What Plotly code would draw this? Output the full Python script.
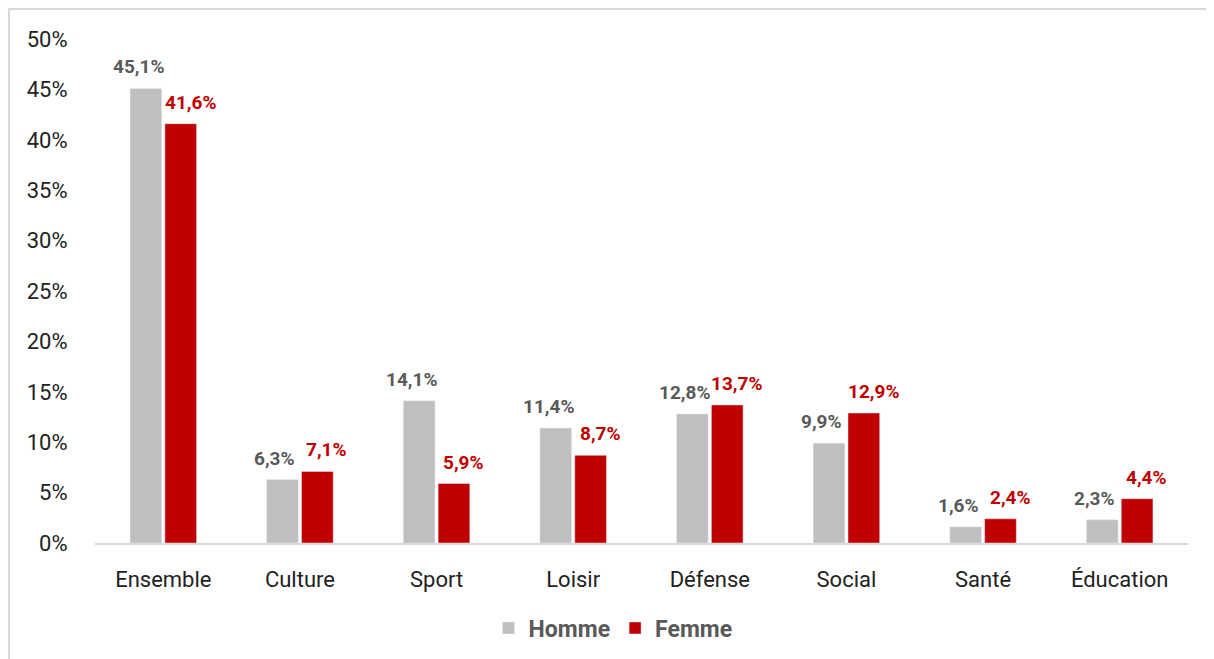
import plotly.graph_objects as go

categories = ["Ensemble", "Culture", "Sport", "Loisir", "Défense", "Social", "Santé", "Éducation"]
homme = [45.1, 6.3, 14.1, 11.4, 12.8, 9.9, 1.6, 2.3]
femme = [41.6, 7.1, 5.9, 8.7, 13.7, 12.9, 2.4, 4.4]
ytick_vals = [0, 5, 10, 15, 20, 25, 30, 35, 40, 45, 50]
ytick_text = [f"{v}%" for v in ytick_vals]

def fmt(v):
    return f"{v:.1f}%".replace(".", ",")

FONT = "Roboto"
HOMME_C, FEMME_C = "#BFBFBF", "#C00000"
fig = go.Figure()
fig.add_trace(go.Bar(name="Homme", x=categories, y=homme, marker_color=HOMME_C))
fig.add_trace(go.Bar(name="Femme", x=categories, y=femme, marker_color=FEMME_C))

annotations = []
for series, color, dx in ((homme, "#595959", -25), (femme, FEMME_C, 27)):
    for c, v in zip(categories, series):
        annotations.append(dict(
            x=c, y=v, xref="x", yref="y", text=fmt(v), showarrow=False,
            xanchor="center", yanchor="bottom", xshift=dx, yshift=8,
            font=dict(family=FONT, size=19, color=color, weight="bold"),
        ))

L, R, T, B = 87, 34, 31, 124
W, H = 1214, 659
pw, ph = W - L - R, H - T - B
fig.update_layout(
    width=W, height=H,
    margin=dict(l=L, r=R, t=T, b=B),
    paper_bgcolor="white", plot_bgcolor="white",
    barmode="group", bargap=0.49, bargroupgap=0.09,
    font=dict(family=FONT, size=22, color="#222222"),
    xaxis=dict(showline=True, linecolor="#D9D9D9", linewidth=2,
               ticks="outside", ticklen=16, tickcolor="white",
               tickfont=dict(size=22, color="#222222"), showgrid=False),
    yaxis=dict(range=[0, 50], tickvals=ytick_vals, ticktext=ytick_text,
               showgrid=False, zeroline=False, showline=False, ticks="outside",
               ticklen=22, tickcolor="white",
               tickfont=dict(size=22, color="#222222")),
    legend=dict(orientation="h", x=0.474, xanchor="center",
                y=-(620 - (H - B)) / ph, yanchor="middle",
                font=dict(size=23, color="#595959", weight="bold"),
                traceorder="normal"),
    showlegend=True,
    annotations=annotations,
    shapes=[dict(type="rect", xref="paper", yref="paper",
                 x0=(1 - L) / pw, x1=(1210 - L) / pw,
                 y0=(H - B - 657) / ph, y1=(H - B - 1) / ph,
                 line=dict(color="#D9D9D9", width=2), fillcolor="rgba(0,0,0,0)", layer="below")],
)
fig.write_html("out.html")
